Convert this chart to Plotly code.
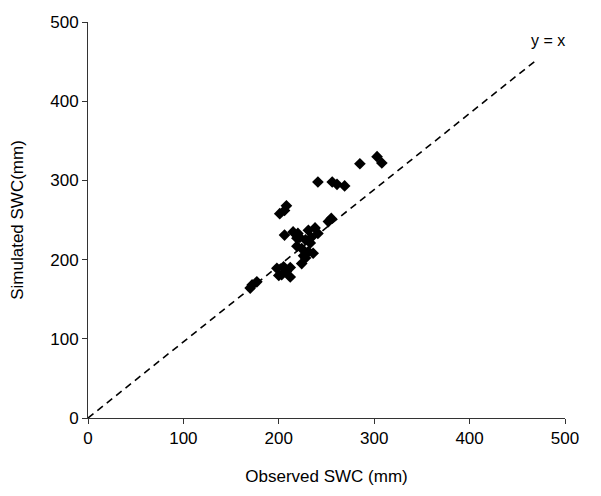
import plotly.graph_objects as go

observed = [172, 177, 170, 198, 205, 203, 212, 208, 201, 206, 208, 206, 215, 219,
            219, 220, 231, 238, 241, 228, 233, 224, 231, 236, 228, 224, 226, 222,
            234, 200, 212, 252, 255, 241, 256, 261, 269, 285, 303, 308]
simulated = [168, 172, 164, 189, 191, 181, 178, 185, 258, 262, 268, 231, 235, 227,
             217, 233, 237, 240, 233, 225, 221, 214, 210, 208, 202, 195, 205, 228,
             228, 180, 190, 248, 252, 298, 298, 295, 293, 321, 330, 322]

line_x = [0, 468]
line_y = [0, 450]

x_ticks = [0, 100, 200, 300, 400, 500]
y_ticks = [0, 100, 200, 300, 400, 500]

fig = go.Figure()
fig.add_trace(go.Scatter(x=line_x, y=line_y, mode="lines",
                         line=dict(color="black", width=1.6, dash="7px,5px"),
                         hoverinfo="skip", showlegend=False))
fig.add_trace(go.Scatter(x=observed, y=simulated, mode="markers",
                         marker=dict(symbol="diamond", size=9, color="black"),
                         showlegend=False))

fig.add_annotation(x=482, y=477, text="y = x", showarrow=False,
                   font=dict(size=16, color="black", family="Liberation Sans, Arial"))

axis_font = dict(size=17, color="black", family="Liberation Sans, Arial")
fig.update_xaxes(range=[0, 500], tickvals=x_ticks, showgrid=False, zeroline=False,
                 showline=True, linecolor="#333", linewidth=1, ticks="outside",
                 ticklen=5, tickcolor="#333", tickfont=axis_font, automargin=False,
                 title=dict(text="Observed SWC (mm)", font=axis_font, standoff=22))
fig.update_yaxes(range=[0, 500], tickvals=y_ticks, showgrid=False, zeroline=False,
                 showline=True, linecolor="#333", linewidth=1, ticks="outside",
                 ticklen=5, tickcolor="#333", tickfont=axis_font, automargin=False,
                 title=dict(text="Simulated SWC(mm)", font=axis_font, standoff=22))

fig.update_layout(width=601, height=496, margin=dict(l=80, r=44, t=14, b=86),
                  plot_bgcolor="white", paper_bgcolor="white",
                  font=dict(family="Liberation Sans, Arial", color="black"))

fig.write_html("out.html")
